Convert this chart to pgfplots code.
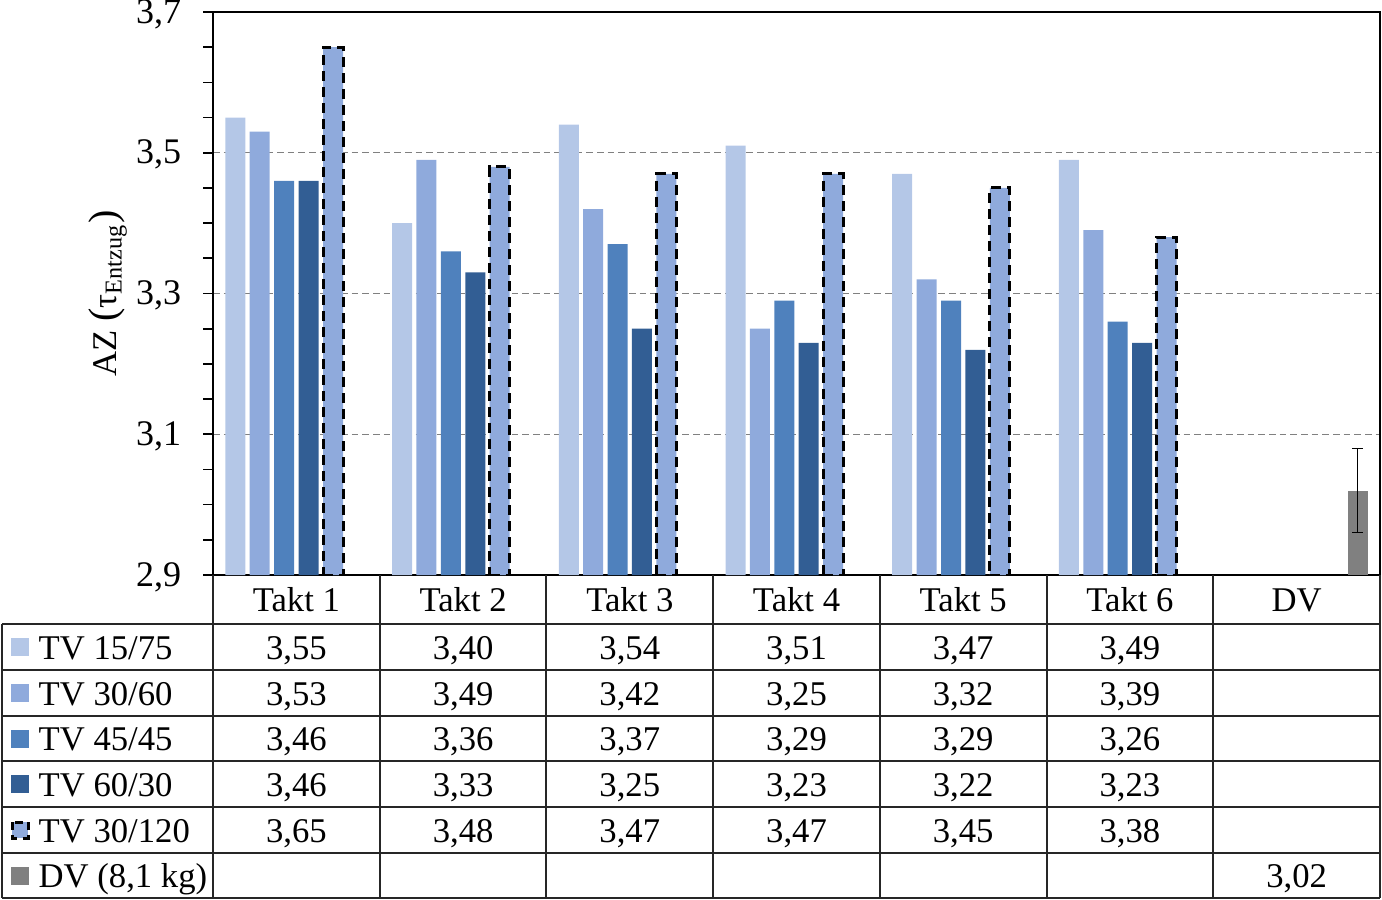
\documentclass[border=0pt]{standalone}
\usepackage{pgfplots}
\pgfplotsset{compat=1.18}
\usepackage{fontspec}
\setmainfont{Liberation Serif}
\definecolor{cA}{RGB}{180,199,231}
\definecolor{cB}{RGB}{143,170,220}
\definecolor{cC}{RGB}{79,129,189}
\definecolor{cD}{RGB}{50,94,148}
\definecolor{cG}{RGB}{128,128,128}
\newcommand\tfont{\fontsize{10.4}{12}\selectfont}
\begin{document}
\begin{tikzpicture}
\path[use as bounding box] (0,0) rectangle (414.6pt,-270pt);
\begin{axis}[
  at={(63.9pt,-172.5pt)}, anchor=south west,
  scale only axis, width=350.1pt, height=168.9pt,
  ybar, bar width=6pt,
  xmin=-0.5, xmax=6.5, ymin=2.9, ymax=3.7,
  xtick=\empty,
  ytick={2.9,3.1,3.3,3.5,3.7},
  minor ytick={2.95,3.0,3.05,3.15,3.2,3.25,3.35,3.4,3.45,3.55,3.6,3.65},
  ytick pos=left,
  tick align=outside, major tick length=3pt, minor tick length=3pt,
  ytick style={black, line width=0.5pt},
  minor tick style={black, line width=0.5pt},
  ymajorgrids, grid style={gray, line width=0.4pt, dash pattern=on 2pt off 1.2pt},
  axis line style={black, line width=0.6pt},
  yticklabel style={font=\fontsize{10.8}{13}\selectfont, xshift=-3pt, yshift=-0.6pt,
    /pgf/number format/.cd, fixed, fixed zerofill, precision=1, use comma, assume math mode=true},
  ylabel={AZ {\large(}τ\textsubscript{Entzug}{\large)}},
  ylabel style={at={(axis description cs:-0.09,0.5)}, anchor=center, font=\tfont},
]
\addplot[fill=cA, draw=none, bar shift=-18.3pt] coordinates {(0,3.55) (1,3.40) (2,3.54) (3,3.51) (4,3.47) (5,3.49)};
\addplot[fill=cB, draw=none, bar shift=-11pt] coordinates {(0,3.53) (1,3.49) (2,3.42) (3,3.25) (4,3.32) (5,3.39)};
\addplot[fill=cC, draw=none, bar shift=-3.66pt] coordinates {(0,3.46) (1,3.36) (2,3.37) (3,3.29) (4,3.29) (5,3.26)};
\addplot[fill=cD, draw=none, bar shift=3.66pt] coordinates {(0,3.46) (1,3.33) (2,3.25) (3,3.23) (4,3.22) (5,3.23)};
\addplot[fill=cB, draw=black, line width=0.9pt, dash pattern=on 3pt off 1.8pt, bar shift=11pt] coordinates {(0,3.65) (1,3.48) (2,3.47) (3,3.47) (4,3.45) (5,3.38)};
\addplot[fill=cG, draw=none, bar shift=18.3pt,
  error bars/.cd, y dir=both, y explicit,
  error bar style={black, line width=0.4pt, solid},
  error mark options={rotate=90, mark size=1.6pt, black, line width=0.4pt, solid}]
  coordinates {(6,3.02) +- (0,0.06)};
\end{axis}
\begin{scope}[x=0.3pt, y=-0.3pt]
  \foreach \yy in {624,670,716,761,807,853,898} \draw[black!85, line width=0.6pt] (2,\yy) -- (1380,\yy);
  \draw[black!85, line width=0.6pt] (2,624) -- (2,898);
  \foreach \k in {0,...,7} \draw[black!85, line width=0.6pt] ({213+\k*166.714},575) -- ({213+\k*166.714},898);
  \foreach \k/\t in {0/Takt 1,1/Takt 2,2/Takt 3,3/Takt 4,4/Takt 5,5/Takt 6,6/DV}
    \node[font=\tfont, anchor=base, inner sep=0pt] at ({296.36+\k*166.714},611) {\t};
  \foreach \k/\t in {0/3{,}55,1/3{,}40,2/3{,}54,3/3{,}51,4/3{,}47,5/3{,}49}
    \node[font=\tfont, anchor=base, inner sep=0pt] at ({296.36+\k*166.714},659) {\t};
  \foreach \k/\t in {0/3{,}53,1/3{,}49,2/3{,}42,3/3{,}25,4/3{,}32,5/3{,}39}
    \node[font=\tfont, anchor=base, inner sep=0pt] at ({296.36+\k*166.714},705) {\t};
  \foreach \k/\t in {0/3{,}46,1/3{,}36,2/3{,}37,3/3{,}29,4/3{,}29,5/3{,}26}
    \node[font=\tfont, anchor=base, inner sep=0pt] at ({296.36+\k*166.714},750.5) {\t};
  \foreach \k/\t in {0/3{,}46,1/3{,}33,2/3{,}25,3/3{,}23,4/3{,}22,5/3{,}23}
    \node[font=\tfont, anchor=base, inner sep=0pt] at ({296.36+\k*166.714},796) {\t};
  \foreach \k/\t in {0/3{,}65,1/3{,}48,2/3{,}47,3/3{,}47,4/3{,}45,5/3{,}38}
    \node[font=\tfont, anchor=base, inner sep=0pt] at ({296.36+\k*166.714},842) {\t};
  \node[font=\tfont, anchor=base, inner sep=0pt] at ({296.36+6*166.714},887.5) {3,02};
  % legend keys and names
  \fill[cA] (11,638) rectangle (29,656);
  \fill[cB] (11,684) rectangle (29,702);
  \fill[cC] (11,729.5) rectangle (29,747.5);
  \fill[cD] (11,775) rectangle (29,793);
  \filldraw[fill=cB, draw=black, line width=0.9pt, dash pattern=on 2.4pt off 1.6pt] (12,822) rectangle (28,838);
  \fill[cG] (11,866.5) rectangle (29,884.5);
  \node[font=\tfont, anchor=base west, inner sep=0pt] at (38,659) {TV 15/75};
  \node[font=\tfont, anchor=base west, inner sep=0pt] at (38,705) {TV 30/60};
  \node[font=\tfont, anchor=base west, inner sep=0pt] at (38,750.5) {TV 45/45};
  \node[font=\tfont, anchor=base west, inner sep=0pt] at (38,796) {TV 60/30};
  \node[font=\tfont, anchor=base west, inner sep=0pt] at (38,842) {TV 30/120};
  \node[font=\tfont, anchor=base west, inner sep=0pt] at (38,887.5) {DV (8,1 kg)};
\end{scope}
\end{tikzpicture}
\end{document}
